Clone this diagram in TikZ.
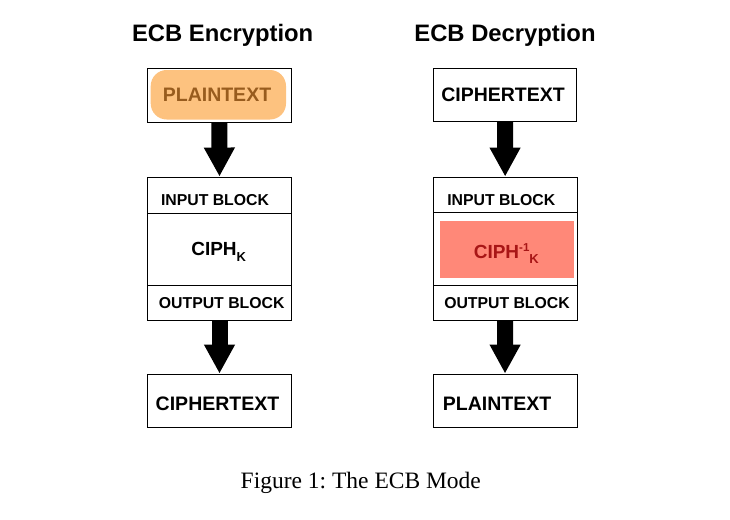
\documentclass[tikz,border=0pt]{standalone}
\usepackage{fontspec}
\setmainfont{Liberation Serif}
\newfontfamily\arialf{Liberation Sans}
\usetikzlibrary{arrows.meta}
\definecolor{orfill}{HTML}{FDC27F}
\definecolor{ortext}{HTML}{985C1E}
\definecolor{pkfill}{HTML}{FF8878}
\definecolor{pktext}{HTML}{A81616}
\frenchspacing
\tikzset{
  box/.style={draw=black, line width=0.9pt, inner sep=0pt},
  lbl/.style={anchor=base, inner sep=0pt, font=\arialf\bfseries\fontsize{19.5}{22}\selectfont},
  small/.style={anchor=base, inner sep=0pt, font=\arialf\bfseries\fontsize{15.8}{18}\selectfont},
  ttl/.style={anchor=base, inner sep=0pt, font=\arialf\bfseries\fontsize{23.8}{26}\selectfont},
  ciph/.style={anchor=base, inner sep=0pt, font=\arialf\bfseries\fontsize{19}{21}\selectfont},
  bigarrow/.style={line width=16pt, -{Triangle[width=29pt,length=29pt]}}
}
\begin{document}
\begin{tikzpicture}[x=1pt,y=-1pt]
\useasboundingbox (0,0) rectangle (730,519);
% titles
\node[ttl] (t1) at (222.7,41.7) {ECB Encryption};
\node[ttl] (t2) at (505,41.7) {ECB Decryption};
% left column
\node[box, minimum width=143.5pt, minimum height=53.5pt] (pL) at (219.25,95.25) {};
\node[fill=orfill, rounded corners=16pt, inner sep=0pt, minimum width=135.3pt, minimum height=49.5pt] (orL) at (218.35,94.75) {};
\node[lbl, text=ortext] (pLt) at (217,101.7) {PLAINTEXT};
\node[box, minimum width=144pt, minimum height=36.3pt] (inL) at (219.5,195.15) {};
\node[box, minimum width=144pt, minimum height=72.4pt] (ciL) at (219.5,249.5) {};
\node[box, minimum width=144pt, minimum height=34.3pt] (outL) at (219.5,302.85) {};
\node[small] (inLt) at (215,205.7) {INPUT BLOCK};
\node[small] (outLt) at (221.7,308.3) {OUTPUT BLOCK};
\node[ciph] (ciLt) at (218.7,255.7) {CIPH\raisebox{-5.5pt}{\fontsize{13}{15}\selectfont K}};
\node[box, minimum width=144pt, minimum height=53pt] (ctL) at (219.5,400.5) {};
\node[lbl] (ctLt) at (217.5,410) {CIPHERTEXT};
\draw[bigarrow] (pL.south) -- (inL.north);
\draw[bigarrow] (outL.south) -- (ctL.north);
% right column
\node[box, minimum width=143.4pt, minimum height=53.4pt] (ctR) at (505,95) {};
\node[lbl] (ctRt) at (503,101.7) {CIPHERTEXT};
\node[box, minimum width=143.7pt, minimum height=35.7pt] (inR) at (505.15,194.85) {};
\node[box, minimum width=143.7pt, minimum height=72.6pt] (ciR) at (505.15,249) {};
\node[box, minimum width=143.7pt, minimum height=34.7pt] (outR) at (505.15,302.65) {};
\node[fill=pkfill, inner sep=0pt, minimum width=134pt, minimum height=56.4pt] (pkR) at (507,249.5) {};
\node[small] (inRt) at (501.3,205.7) {INPUT BLOCK};
\node[small] (outRt) at (507,308.3) {OUTPUT BLOCK};
\node[ciph, text=pktext] (ciRt) at (506.3,258.3) {CIPH\raisebox{6.5pt}{\fontsize{11.5}{13}\selectfont -1}\raisebox{-5.5pt}{\fontsize{13}{15}\selectfont K}};
\node[box, minimum width=144pt, minimum height=53pt] (ptR) at (505,400.5) {};
\node[lbl] (ptRt) at (497,410) {PLAINTEXT};
\draw[bigarrow] (ctR.south) -- (inR.north);
\draw[bigarrow] (outR.south) -- (ptR.north);
% caption
\node[anchor=base, inner sep=0pt, font=\fontsize{23.5}{26}\selectfont] (cap) at (360.8,488.5) {Figure 1: The ECB Mode};
\end{tikzpicture}
\end{document}
